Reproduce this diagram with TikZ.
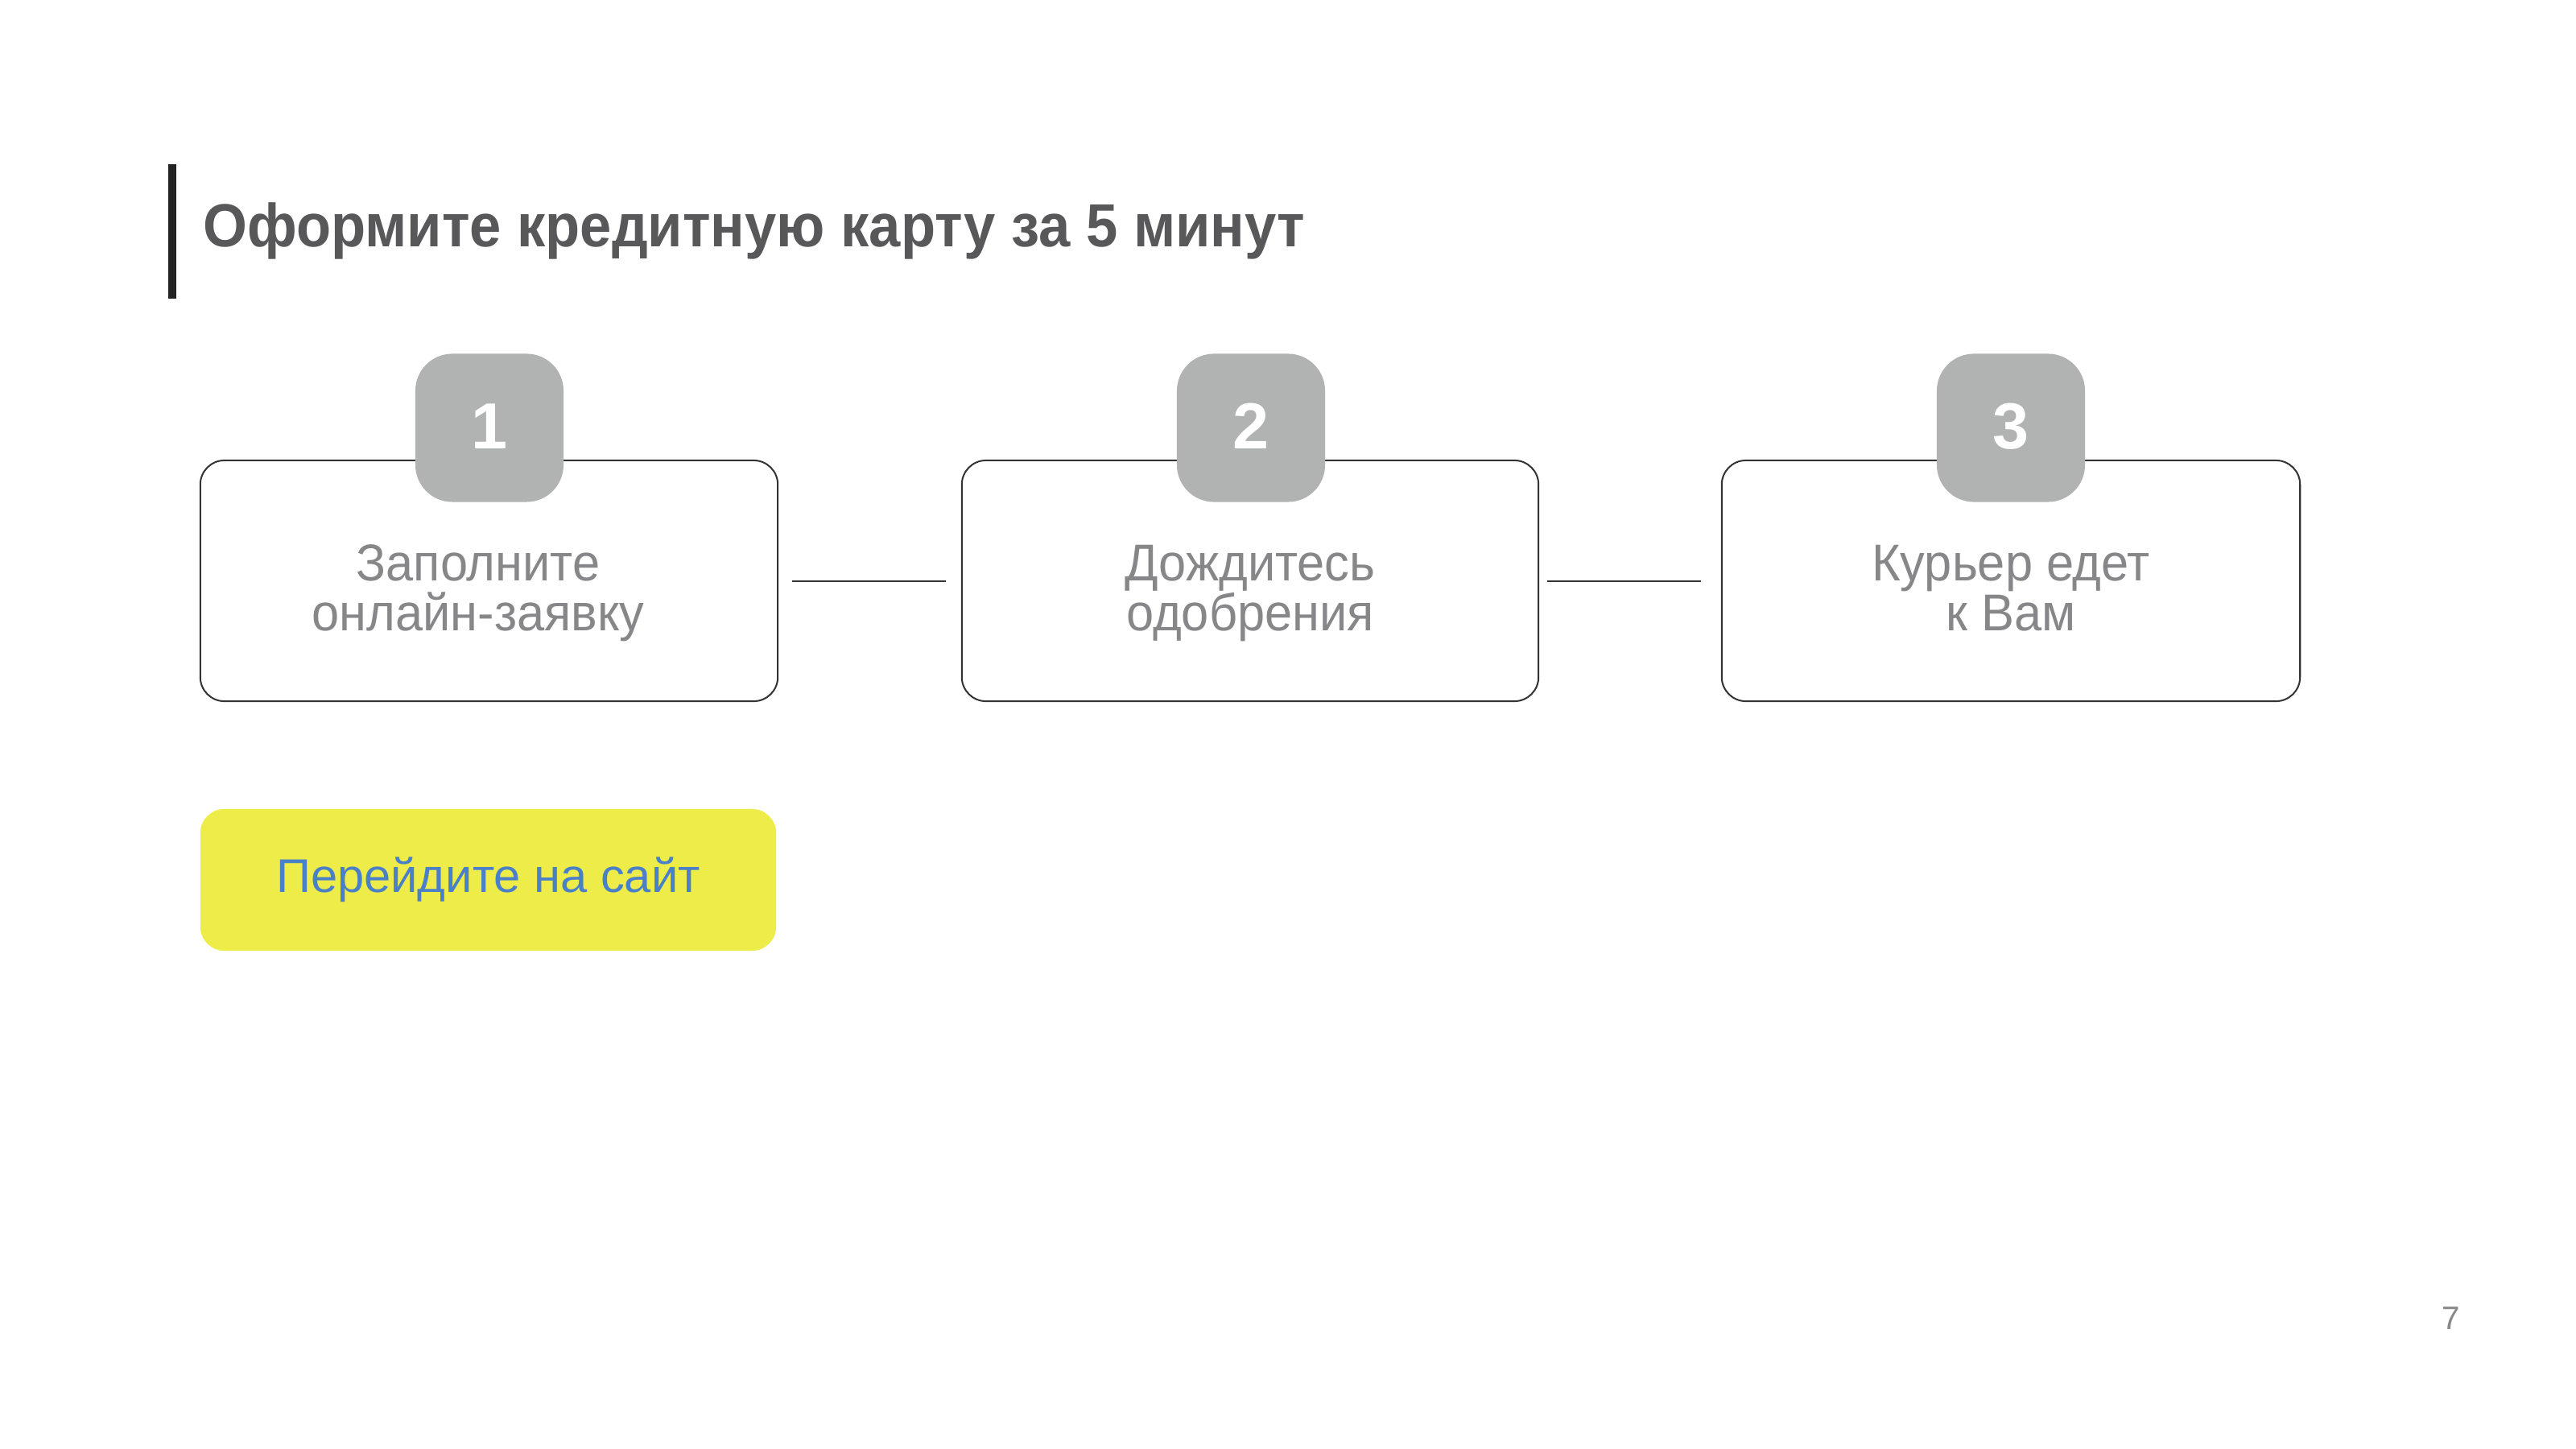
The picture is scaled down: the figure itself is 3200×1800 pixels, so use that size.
\documentclass[tikz,border=0pt]{standalone}
\usepackage{fontspec}
\setmainfont{Liberation Sans}
\definecolor{titlegray}{HTML}{58585A}
\definecolor{bargray}{HTML}{222222}
\definecolor{linegray}{HTML}{333333}
\definecolor{badgegray}{HTML}{B1B2B2}
\definecolor{textgray}{HTML}{87878A}
\definecolor{btnyellow}{HTML}{EEEC48}
\definecolor{btnblue}{HTML}{4A80C8}
\definecolor{pagegray}{HTML}{888888}
\newcommand{\stx}[1]{\scalebox{0.953}[1]{#1}}
\tikzset{
  stepbox/.style={draw=linegray, line width=0.57pt, rounded corners=0.3cm,
    minimum height=2.99cm, inner sep=0pt},
  badge/.style={fill=badgegray, rounded corners=0.46cm, minimum size=1.84cm, inner sep=0pt},
  badgenum/.style={anchor=base, inner sep=0pt, text=white, font=\fontsize{23pt}{23pt}\bfseries},
  steptext/.style={anchor=base, inner sep=0pt, text=textgray, font=\fontsize{18.3pt}{18.3pt}\selectfont},
  connector/.style={draw=linegray, line width=0.57pt},
  button/.style={fill=btnyellow, rounded corners=0.3cm, minimum width=7.15cm, minimum height=1.76cm, inner sep=0pt},
}
\begin{document}
\begin{tikzpicture}[x=0.01cm, y=-0.01cm]
\fill[white] (0,0) rectangle (3200,1800);
\useasboundingbox (0,0) rectangle (3200,1800);
% title bar and title
\fill[bargray] (209,204) rectangle (219,371);
\node[anchor=base west, inner sep=0pt, text=titlegray, font=\fontsize{21.5pt}{21.5pt}\bfseries] (title) at (252,307) {\scalebox{0.933}[1]{Оформите кредитную карту за 5 минут}};
% step boxes
\node[stepbox, minimum width=7.17cm] (b1) at (607.5,721.5) {};
\node[stepbox, minimum width=7.16cm] (b2) at (1553,721.5) {};
\node[stepbox, minimum width=7.18cm] (b3) at (2498,721.5) {};
% connectors
\draw[connector, shorten <=0.17cm, shorten >=0.19cm] (b1.east) -- (b2.west);
\draw[connector, shorten <=0.10cm, shorten >=0.25cm] (b2.east) -- (b3.west);
% badges
\node[badge] (g1) at (608,531.5) {};
\node[badge] (g2) at (1554,531.5) {};
\node[badge] (g3) at (2498,531.5) {};
\node[badgenum] (n1) at (608,557) {1};
\node[badgenum] (n2) at (1554,557) {2};
\node[badgenum] (n3) at (2498,557) {3};
% step texts
\node[steptext] (t1a) at (594,721) {\stx{Заполните}};
\node[steptext] (t1b) at (594,783) {\stx{онлайн-заявку}};
\node[steptext] (t2a) at (1553,721) {\stx{Дождитесь}};
\node[steptext] (t2b) at (1553,783) {\stx{одобрения}};
\node[steptext] (t3a) at (2498,721) {\stx{Курьер едет}};
\node[steptext] (t3b) at (2498,783) {\stx{к Вам}};
% button
\node[button] (btn) at (606.5,1093) {};
\node[anchor=base, inner sep=0pt, text=btnblue, font=\fontsize{16.7pt}{16.7pt}\selectfont] (btntext) at (606.5,1108) {\scalebox{1.016}[1]{Перейдите на сайт}};
% page number
\node[anchor=base west, inner sep=0pt, text=pagegray, font=\fontsize{11.5pt}{11.5pt}\selectfont] (page) at (3033,1651) {7};
\end{tikzpicture}
\end{document}
